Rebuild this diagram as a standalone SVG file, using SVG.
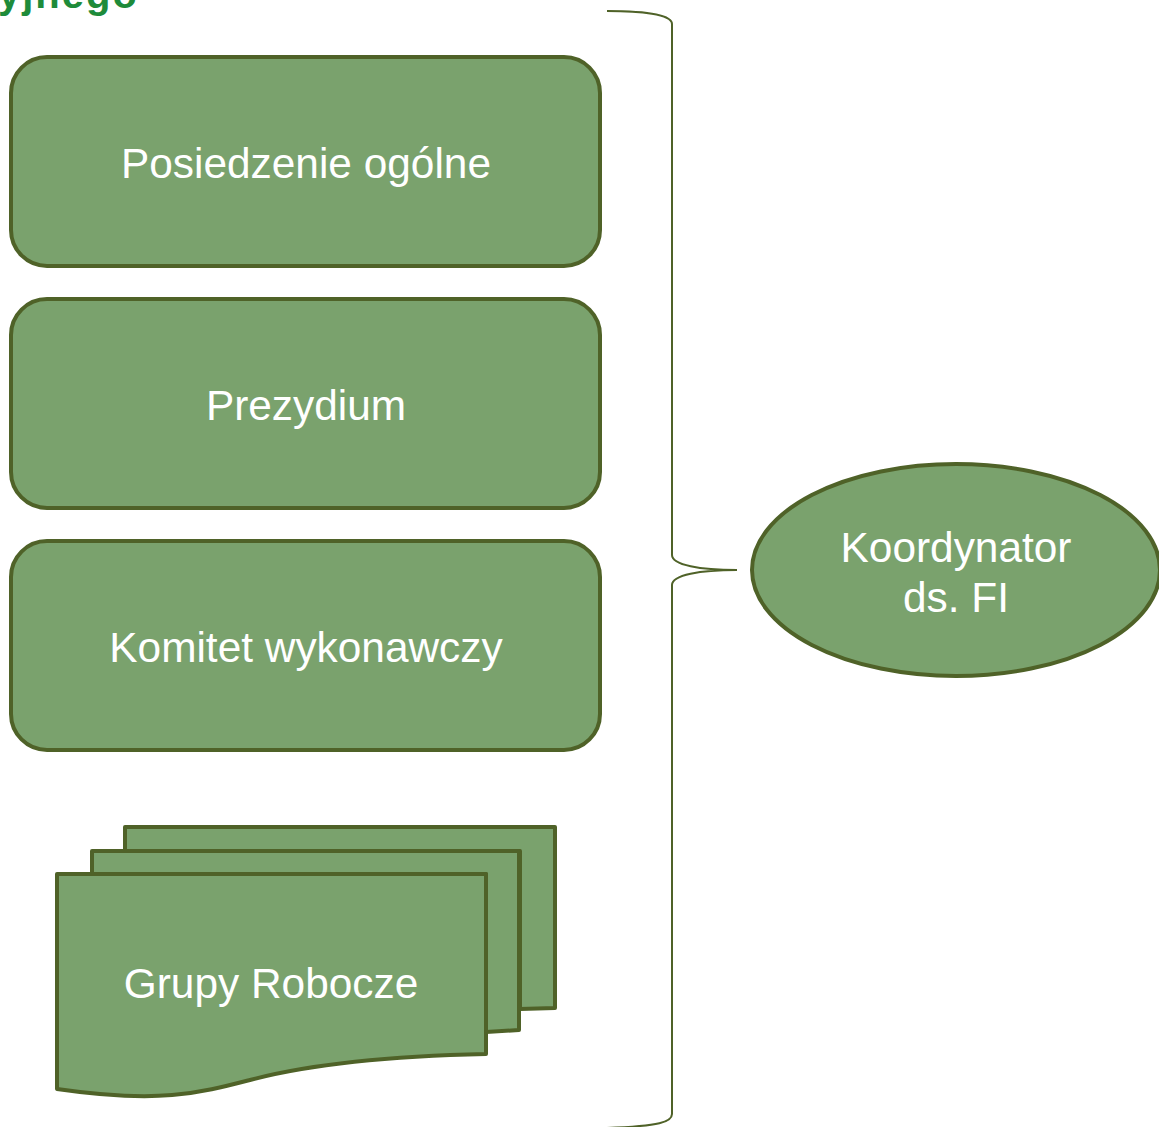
<svg xmlns="http://www.w3.org/2000/svg" width="1159" height="1127" viewBox="0 0 1159 1127">
<style>
.box{fill:#7aa26d;stroke:#4f6228;stroke-width:4;stroke-linejoin:round}
.lbl{font-family:"Liberation Sans",Arial,sans-serif;font-size:42.4px;fill:#ffffff;text-anchor:middle}
.title{font-family:"Liberation Sans",Arial,sans-serif;font-size:40px;font-weight:bold;fill:#1e8b3a;letter-spacing:2px}
.brace{fill:none;stroke:#4f6228;stroke-width:2}
</style>
<rect width="1159" height="1127" fill="#ffffff"/>
<text class="title" x="-2" y="8">yjnego</text>
<g id="posiedzenie">
<rect class="box" x="11" y="57" width="589" height="209" rx="36" ry="36"/>
<text class="lbl" x="306" y="178">Posiedzenie ogólne</text>
</g>
<g id="prezydium">
<rect class="box" x="11" y="299" width="589" height="209" rx="36" ry="36"/>
<text class="lbl" x="306" y="420">Prezydium</text>
</g>
<g id="komitet">
<rect class="box" x="11" y="541" width="589" height="209" rx="36" ry="36"/>
<text class="lbl" x="306" y="662">Komitet wykonawczy</text>
</g>
<g id="grupy">
<path class="box" d="M125 827 H555 V1008 L520 1009 V851 H125 Z"/>
<path class="box" d="M92 851 H519 V1030 L486 1032 V874 H92 Z"/>
<path class="box" d="M57 874 H486 V1054 C390 1056 310 1064 250 1080 C200 1093 160 1104 57 1089 Z"/>
<text class="lbl" x="271" y="998">Grupy Robocze</text>
</g>
<g id="koordynator">
<ellipse class="box" cx="956" cy="570" rx="204" ry="106"/>
<text class="lbl" x="956" y="562">Koordynator</text>
<text class="lbl" x="956" y="612">ds. FI</text>
</g>
<g id="connectors">
<path class="brace" d="M607 11 C640 11 672 14 672 24 V555 C672 565 700 570 737 570 C700 570 672 575 672 585 V1114 C672 1122 660 1126 607 1128"/>
</g>
</svg>
